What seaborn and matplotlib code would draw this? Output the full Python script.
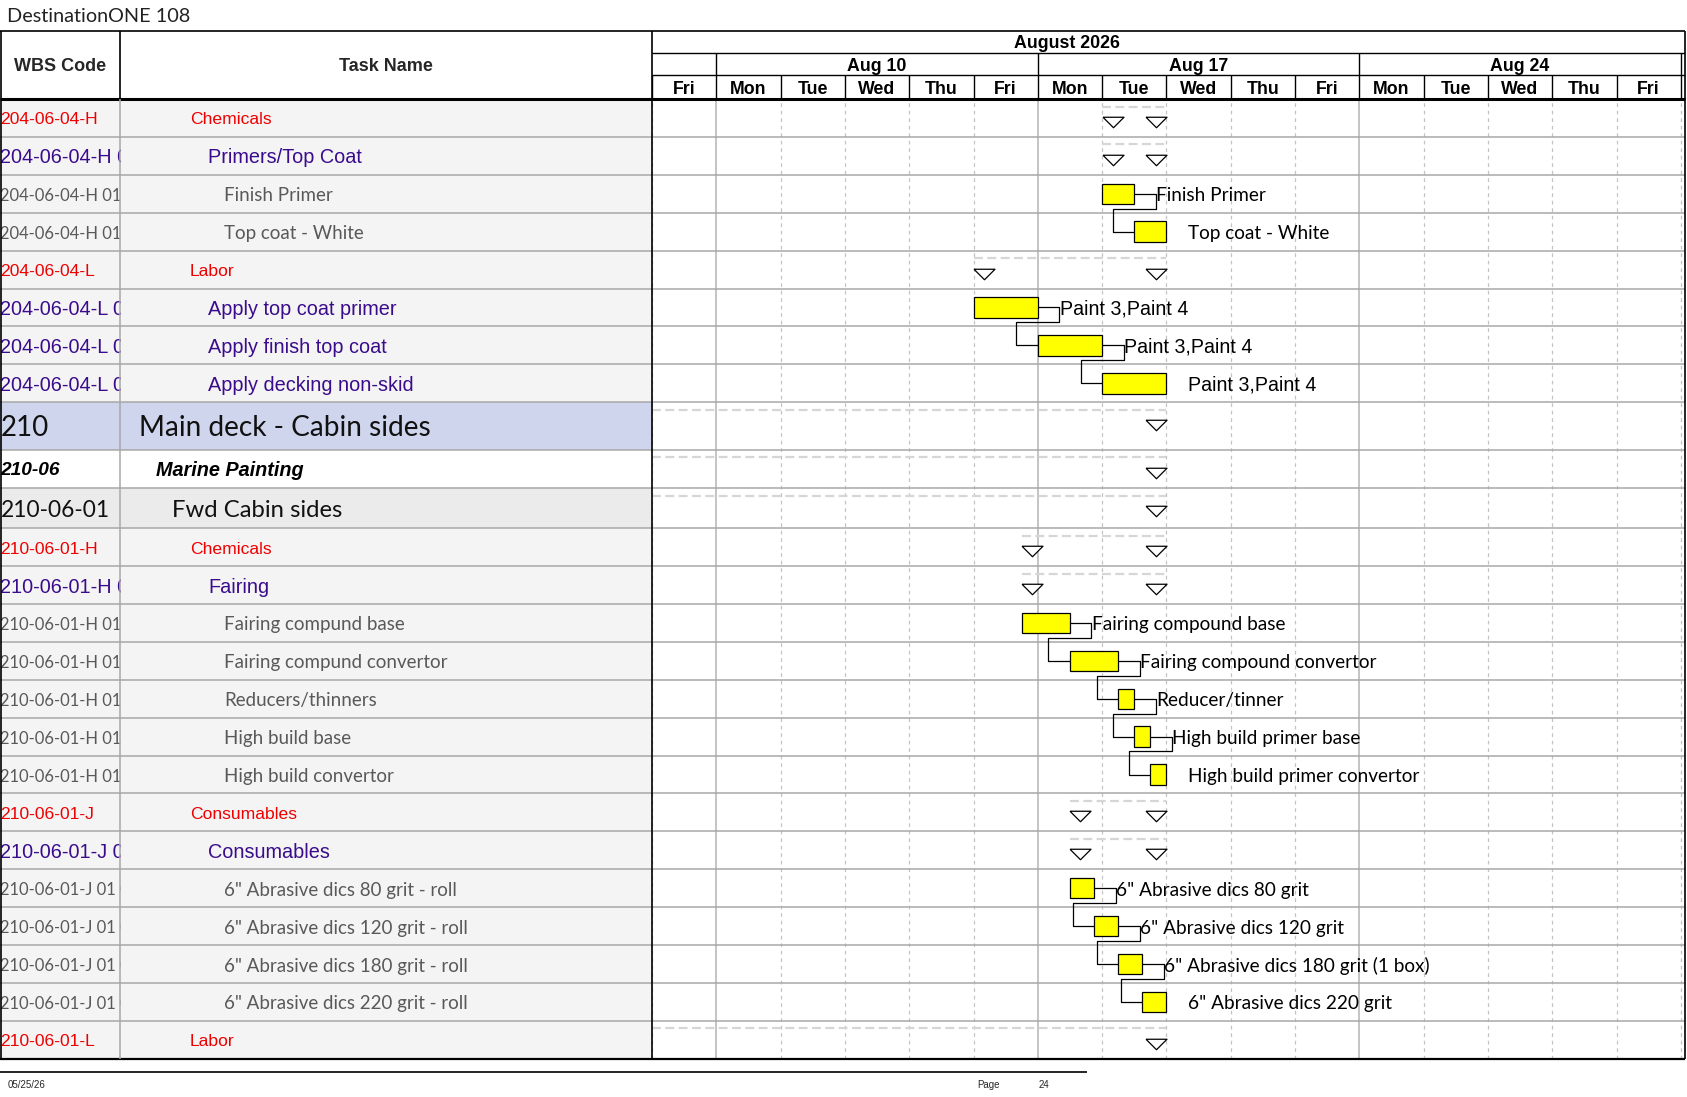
import matplotlib
matplotlib.use("Agg")
import matplotlib.pyplot as plt
import numpy as np
import seaborn as sns

# ---- chart data ----
title = "DestinationONE 108"
month_label = "August 2026"
week_labels = ["Aug 10", "Aug 17", "Aug 24"]
week_starts = [1, 6, 11]          # working-day index of each Monday
day_names = ["Fri", "Mon", "Tue", "Wed", "Thu", "Fri", "Mon", "Tue", "Wed", "Thu",
             "Fri", "Mon", "Tue", "Wed", "Thu", "Fri"]

wbs_codes = ["204-06-04-H", "204-06-04-H 01", "204-06-04-H 01 01", "204-06-04-H 01 02",
             "204-06-04-L", "204-06-04-L 01", "204-06-04-L 02", "204-06-04-L 03",
             "210", "210-06", "210-06-01",
             "210-06-01-H", "210-06-01-H 01", "210-06-01-H 01 01", "210-06-01-H 01 02",
             "210-06-01-H 01 03", "210-06-01-H 01 04", "210-06-01-H 01 05",
             "210-06-01-J", "210-06-01-J 01", "210-06-01-J 01 01", "210-06-01-J 01 02",
             "210-06-01-J 01 03", "210-06-01-J 01 04", "210-06-01-L"]
task_names = ["Chemicals", "Primers/Top Coat", "Finish Primer", "Top coat - White",
              "Labor", "Apply top coat primer", "Apply finish top coat", "Apply decking non-skid",
              "Main deck - Cabin sides", "Marine Painting", "Fwd Cabin sides",
              "Chemicals", "Fairing", "Fairing compund base", "Fairing compund convertor",
              "Reducers/thinners", "High build base", "High build convertor",
              "Consumables", "Consumables",
              '6" Abrasive dics 80 grit - roll', '6" Abrasive dics 120 grit - roll',
              '6" Abrasive dics 180 grit - roll', '6" Abrasive dics 220 grit - roll',
              "Labor"]
row_kind = ["red", "purple", "grey", "grey",
            "red", "purple", "purple", "purple",
            "big", "bi", "mid",
            "red", "purple", "grey", "grey", "grey", "grey", "grey",
            "red", "purple", "grey", "grey", "grey", "grey",
            "red"]
is_summary = [True, True, False, False,
              True, False, False, False,
              True, True, True,
              True, True, False, False, False, False, False,
              True, True, False, False, False, False,
              True]
# start / finish in working days from Fri Aug 7 (0); negatives start before the view
task_start = [7.0, 7.0, 7.0, 7.5,
              5.0, 5.0, 6.0, 7.0,
              -3.0, -3.0, -3.0,
              5.75, 5.75, 5.75, 6.5, 7.25, 7.5, 7.75,
              6.5, 6.5, 6.5, 6.875, 7.25, 7.625,
              -3.0]
task_end = [8.0, 8.0, 7.5, 8.0,
            8.0, 6.0, 7.0, 8.0,
            8.0, 8.0, 8.0,
            8.0, 8.0, 6.5, 7.25, 7.5, 7.75, 8.0,
            8.0, 8.0, 6.875, 7.25, 7.625, 8.0,
            8.0]
bar_labels = ["", "", "Finish Primer", "Top coat - White",
              "", "Paint 3,Paint 4", "Paint 3,Paint 4", "Paint 3,Paint 4",
              "", "", "",
              "", "", "Fairing compound base", "Fairing compound convertor",
              "Reducer/tinner", "High build primer base", "High build primer convertor",
              "", "", '6" Abrasive dics 80 grit', '6" Abrasive dics 120 grit',
              '6" Abrasive dics 180 grit (1 box)', '6" Abrasive dics 220 grit',
              ""]
links = [(2, 3), (5, 6), (6, 7), (13, 14), (14, 15), (15, 16), (16, 17),
         (20, 21), (21, 22), (22, 23)]
footer_date = "05/25/26"
footer_page = "24"

# ---- styling ----
sns.set_theme(style="white")
ARIAL = ["Liberation Sans", "DejaVu Sans"]
CALIBRI = ["Lato", "DejaVu Sans"]
plt.rcParams["font.family"] = ARIAL

STYLE = {
    "red":    dict(color="#ee0000", family=ARIAL, size=12.6, wsize=12.6, weight="normal", style="normal", indent=69.5, bg="#f4f4f4"),
    "purple": dict(color="#3a0c8c", family=ARIAL, size=14.3, wsize=14.3, weight="normal", style="normal", indent=87.5, bg="#f4f4f4"),
    "grey":   dict(color="#595959", family=CALIBRI, size=13.5, wsize=11.9, weight="normal", style="normal", indent=103.5, bg="#f4f4f4"),
    "big":    dict(color="#111111", family=CALIBRI, size=20.2, wsize=20, weight="normal", style="normal", indent=18.5, bg="#cfd5ec"),
    "bi":     dict(color="#000000", family=ARIAL, size=14.3, wsize=13.8, weight="bold", style="italic", indent=35.5, bg="#ffffff"),
    "mid":    dict(color="#111111", family=CALIBRI, size=17.2, wsize=16.4, weight="normal", style="normal", indent=51.5, bg="#ebebeb"),
}
ROW_H = {"big": 47.5, "bi": 38.5, "mid": 40.0}
DY = 2.0   # nudge text down to sit like the original

W, H = 1687, 1097
TOP, HEAD_B = 31, 99
X_WBS, X_GANTT, X_RIGHT = 120.5, 652, 1685
DAY_PX = 64.3
view_days = (X_RIGHT - X_GANTT) / DAY_PX

heights = np.array([ROW_H.get(k, 37.9) for k in row_kind])
tops = np.concatenate([[0], np.cumsum(heights)[:-1]])
centers = tops + heights / 2
body_h = heights.sum()
BODY_B = HEAD_B + body_h

fig = plt.figure(figsize=(W / 100, H / 100), dpi=100)
fig.patch.set_facecolor("white")


def px_axes(x0, y0, x1, y1):
    ax = fig.add_axes([x0 / W, 1 - y1 / H, (x1 - x0) / W, (y1 - y0) / H])
    ax.set_axis_off()
    return ax


# ---- left table ----
ax_w = px_axes(0, HEAD_B, X_WBS, BODY_B)
ax_t = px_axes(X_WBS, HEAD_B, X_GANTT, BODY_B)
for ax, width in [(ax_w, X_WBS), (ax_t, X_GANTT - X_WBS)]:
    ax.set_xlim(0, width)
    ax.set_ylim(body_h, 0)
    ax.barh(centers, width, left=0, height=heights,
            color=[STYLE[k]["bg"] for k in row_kind], linewidth=0)
    for b in np.cumsum(heights):
        ax.axhline(b, color="#a8a8a8", lw=1.1)

for i, k in enumerate(row_kind):
    st = STYLE[k]
    font = dict(color=st["color"], family=st["family"], fontweight=st["weight"],
                fontstyle=st["style"], va="center", ha="left", clip_on=True)
    ax_w.text(0.5, centers[i] + DY, wbs_codes[i], fontsize=st["wsize"], **font)
    ax_t.text(st["indent"], centers[i] + DY, task_names[i], fontsize=st["size"], **font)

# ---- gantt body ----
ax_g = px_axes(X_GANTT, HEAD_B, X_RIGHT, BODY_B)
ax_g.set_xlim(0, view_days)
ax_g.set_ylim(body_h, 0)
for d in range(len(day_names) + 1):
    if d in week_starts:
        ax_g.axvline(d, color="#b4b4b4", lw=1.1, zorder=1)
    else:
        ax_g.axvline(d, color="#c4c4c4", lw=0.9, ls=(0, (3, 3)), zorder=1)
for b in np.cumsum(heights):
    ax_g.axhline(b, color="#a8a8a8", lw=1.1, zorder=1)

start = np.array(task_start)
end = np.array(task_end)
summ = np.array(is_summary)
tasks = ~summ

# summary rows: dashed span + open triangles at start / finish
tri_half = 10.5 / DAY_PX
tri = [(-1, 0.5), (1, 0.5), (0, -0.5), (-1, 0.5)]
ax_g.hlines(tops[summ] + 7.5, np.maximum(start[summ], 0), end[summ],
            color="#d6d6d6", lw=1.6, ls=(0, (4, 2)), zorder=2)
tri_x = list(end[summ] - tri_half)
tri_y = list(tops[summ] + 23)
for s, t in zip(start[summ], tops[summ]):
    if s >= 0:
        tri_x.append(s + tri_half)
        tri_y.append(t + 23)
sns.scatterplot(x=tri_x, y=tri_y, marker=tri, s=(21 * 0.72) ** 2,
                facecolor="white", edgecolor="black", linewidth=0.9, ax=ax_g, zorder=4,
                legend=False)

# task bars
BAR_H = 20.5
ax_g.barh(centers[tasks], end[tasks] - start[tasks], left=start[tasks], height=BAR_H,
          color="#ffff00", edgecolor="black", linewidth=0.9, zorder=4)

# finish-to-start links
stub = 21.5 / DAY_PX
for a, b in links:
    xs = [end[a], end[a] + stub, end[a] + stub, start[b] - stub, start[b] - stub, start[b]]
    yb = centers[a] + BAR_H / 2 + 4.5
    ys = [centers[a], centers[a], yb, yb, centers[b], centers[b]]
    ax_g.plot(xs, ys, color="black", lw=0.9, zorder=3)

for i in np.where(tasks)[0]:
    fam, size = (ARIAL, 14.1) if row_kind[i] == "purple" else (CALIBRI, 13.7)
    ax_g.text(end[i] + 22 / DAY_PX, centers[i] + DY, bar_labels[i], family=fam, fontsize=size,
              color="black", va="center", ha="left", zorder=5)

# ---- gantt timescale header ----
ax_h = px_axes(X_GANTT, TOP, X_RIGHT, HEAD_B)
ax_h.set_xlim(0, view_days)
ax_h.set_ylim(HEAD_B, TOP)
hfont = dict(family=ARIAL, fontsize=12.8, fontweight="bold", color="black", ha="center", va="center")
ax_h.text(6.45, 41.5 + DY, month_label, **hfont)
for lab, ws in zip(week_labels, week_starts):
    ax_h.text(ws + 2.5, 64.5 + DY, lab, **hfont)
for d, name in enumerate(day_names):
    ax_h.text(d + 0.5, 87.5 + DY, name, **hfont)
ax_h.hlines([53, 75], 0, view_days, color="black", lw=1)
ax_h.vlines(week_starts + [len(day_names)], 53, 75, color="black", lw=1)
ax_h.vlines(range(len(day_names) + 1), 75, HEAD_B, color="black", lw=1)

# ---- frame, title, footer ----
ax_o = px_axes(0, 0, W, H)
ax_o.set_xlim(0, W)
ax_o.set_ylim(H, 0)
ax_o.text(7.5, 15 + DY, title, family=CALIBRI, fontsize=14.3, color="#222222", va="center", ha="left")
ax_o.text(X_WBS / 2, 64.5 + DY, "WBS Code", family=ARIAL, fontsize=13, fontweight="bold",
          ha="center", va="center")
ax_o.text((X_WBS + X_GANTT) / 2, 64.5 + DY, "Task Name", family=ARIAL, fontsize=13,
          fontweight="bold", ha="center", va="center")
ax_o.hlines(TOP, 0, X_RIGHT, color="black", lw=1.2)
ax_o.hlines(HEAD_B, 0, X_RIGHT, color="black", lw=2.2)
ax_o.hlines(BODY_B, 0, X_RIGHT, color="black", lw=1.6)
ax_o.vlines([0.8, X_GANTT, X_RIGHT], TOP, BODY_B, color="black", lw=1.2)
ax_o.vlines(X_WBS, TOP, HEAD_B, color="black", lw=1.2)
ax_o.vlines(X_WBS, HEAD_B, BODY_B, color="#a8a8a8", lw=1.1)
ax_o.hlines(1072, 0, 1087, color="black", lw=1.2)
ax_o.text(7.5, 1085, footer_date, family=ARIAL, fontsize=7, va="center", ha="left")
ax_o.text(977, 1085, "Page", family=ARIAL, fontsize=7, va="center", ha="left")
ax_o.text(1039, 1085, footer_page, family=ARIAL, fontsize=7, va="center", ha="left")

fig.savefig("out.png", dpi=100, facecolor="white")
